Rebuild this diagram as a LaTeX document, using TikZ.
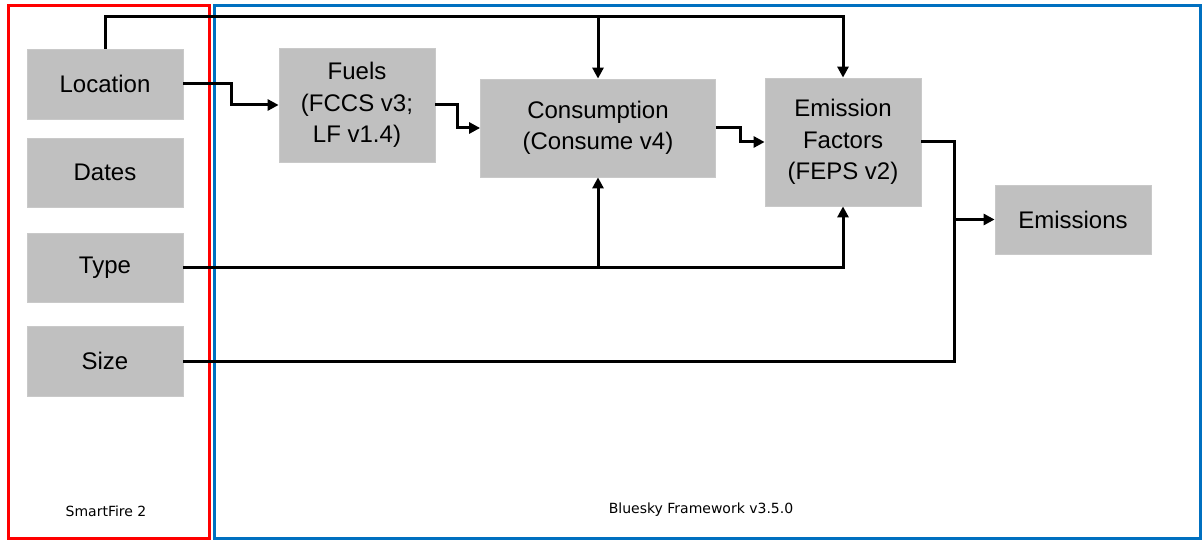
\documentclass[tikz,border=0pt]{standalone}
\usepackage{fontspec}
\setmainfont{Liberation Sans}
\newfontfamily\labfont{DejaVu Sans}
\usetikzlibrary{arrows.meta}
\definecolor{boxgray}{RGB}{192,192,192}
\definecolor{redframe}{RGB}{255,0,0}
\definecolor{blueframe}{RGB}{0,112,192}
\begin{document}
\begin{tikzpicture}[x=1pt,y=-1pt,
  blk/.style={fill=boxgray, draw=boxgray!85!white, line width=0.8pt, minimum width=156pt, inner sep=0pt, align=center, font=\fontsize{24}{31.5}\selectfont},
  conn/.style={line width=3pt, draw=black},
  arr/.style={conn, -{Triangle[length=11pt,width=11pt]}},
  frame/.style={line width=3pt},
  lab/.style={font=\labfont\fontsize{14}{16}\selectfont}]
\useasboundingbox (0,0) rectangle (1202,540);
% frames
\draw[frame, draw=redframe] (8,6) rectangle (209,538);
\draw[frame, draw=blueframe] (214,6) rectangle (1200,538);
\node[lab] (sflab) at (106,511) {SmartFire 2};
\node[lab] (bslab) at (701,510) {Bluesky Framework v3.5.0};
% input boxes
\node[blk, minimum height=70pt] (loc) at (105,84) {Location};
\node[blk, minimum height=69pt] (dat) at (105,172.5) {Dates};
\node[blk, minimum height=69pt] (typ) at (105,267.5) {Type};
\node[blk, minimum height=70pt] (siz) at (105,361) {Size};
% process boxes
\node[blk, minimum height=114pt] (fue) at (357,105) {Fuels\\(FCCS v3;\\LF v1.4)};
\node[blk, minimum width=235pt, minimum height=98pt] (con) at (598,128) {Consumption\\(Consume v4)};
\node[blk, minimum height=128pt] (emf) at (843,142) {Emission\\Factors\\(FEPS v2)};
\node[blk, minimum height=69pt] (ems) at (1073,219.5) {Emissions};
% junction coordinates
\coordinate (topl) at (105,17);
\coordinate (topc) at (598,17);
\coordinate (typc) at (598,268);
\coordinate (sumx) at (954,219.5);
% location top line
\draw[arr] (loc.north) -- (topl) -| (emf.north);
\draw[arr] (topc) -- (con.north);
% location to fuels
\draw[arr] (loc.east) -- (231,84) |- (fue.west);
% fuels to consumption
\draw[arr] (fue.east) -- (457,105) |- (con.west);
% consumption to emission factors
\draw[arr] (con.east) -- (740,128) |- (emf.west);
% type line
\draw[arr] (typ.east) -- (typ.east -| emf.south) -- (emf.south);
\draw[arr] (typc) -- (con.south);
% emission factors and size to emissions
\draw[conn] (emf.east) -- (954,142) -- (954,361) -- (siz.east);
\draw[arr] (sumx) -- (ems.west);
\end{tikzpicture}
\end{document}
